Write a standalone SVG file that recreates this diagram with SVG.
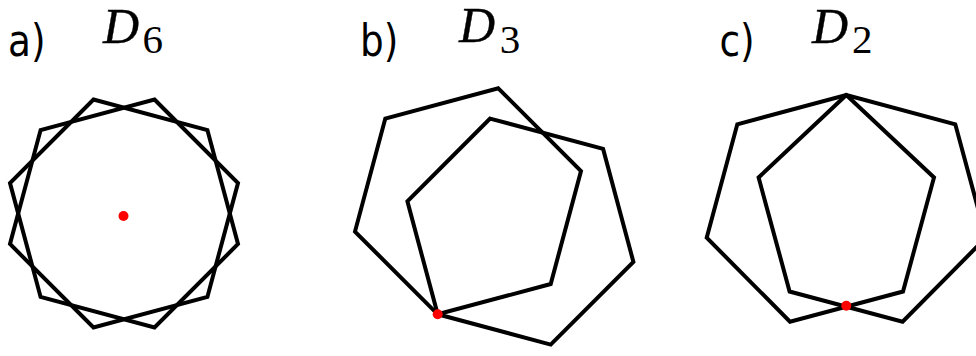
<svg xmlns="http://www.w3.org/2000/svg" width="976" height="356" viewBox="0 0 976 356">
<style>
.hex{fill:none;stroke:#000;stroke-width:4;stroke-linejoin:miter}
.dot{fill:#ff0000}
.lbl{font-family:"DejaVu Sans",sans-serif;font-size:44px;fill:#000}
.math{font-family:"Liberation Serif",serif;fill:#000}
.mi{font-style:italic;font-size:50px;stroke:#000;stroke-width:0.4}
.pad{font-size:10px}
.sub{font-style:normal;font-size:41px;stroke:none}
</style>
<rect width="976" height="356" fill="#fff"/>
<g id="panel-a">
<text class="lbl" x="8" y="56" textLength="37.5" lengthAdjust="spacingAndGlyphs">a)</text>
<text class="math" x="100.5" y="42.5"><tspan class="pad">&#160;</tspan><tspan class="mi">D</tspan><tspan class="pad">&#160;</tspan><tspan class="sub" x="142.4" y="52.5">6</tspan></text>
<polygon class="hex" points="93.5,99.5 207.4,130.1 238,244 154.5,327.5 40.6,296.9 10,183"/>
<polygon class="hex" points="154.5,99.5 238,183 207.4,296.9 93.5,327.5 10,244 40.6,130.1"/>
<circle class="dot" cx="123.5" cy="216" r="5"/>
</g>
<g id="panel-b">
<text class="lbl" x="360" y="56" textLength="38.3" lengthAdjust="spacingAndGlyphs">b)</text>
<text class="math" x="456.5" y="42"><tspan class="pad">&#160;</tspan><tspan class="mi">D</tspan><tspan class="pad">&#160;</tspan><tspan class="sub" x="499.7" y="52.8">3</tspan></text>
<polygon class="hex" points="498.3,88.3 581,171 550.7,284 437.7,314.3 355,231.6 385.3,118.6"/>
<polygon class="hex" points="490.1,118.6 603.1,148.9 633.4,261.9 550.7,344.6 437.7,314.3 407.4,201.3"/>
<circle class="dot" cx="437.7" cy="314.3" r="5"/>
</g>
<g id="panel-c">
<text class="lbl" x="719.5" y="56" textLength="35.2" lengthAdjust="spacingAndGlyphs">c)</text>
<text class="math" x="809.5" y="43"><tspan class="pad">&#160;</tspan><tspan class="mi">D</tspan><tspan class="pad">&#160;</tspan><tspan class="sub" x="852" y="53.3">2</tspan></text>
<polygon class="hex" points="846.3,95 934,177.5 903,291.5 790,321.7 706.7,237.7 737.3,124.3"/>
<polygon class="hex" points="846.3,95 758.6,177.5 789.6,291.5 902.6,321.7 985.9,237.7 955.3,124.3"/>
<circle class="dot" cx="846.3" cy="305.8" r="5"/>
</g>
<g id="connectors"/>
</svg>
